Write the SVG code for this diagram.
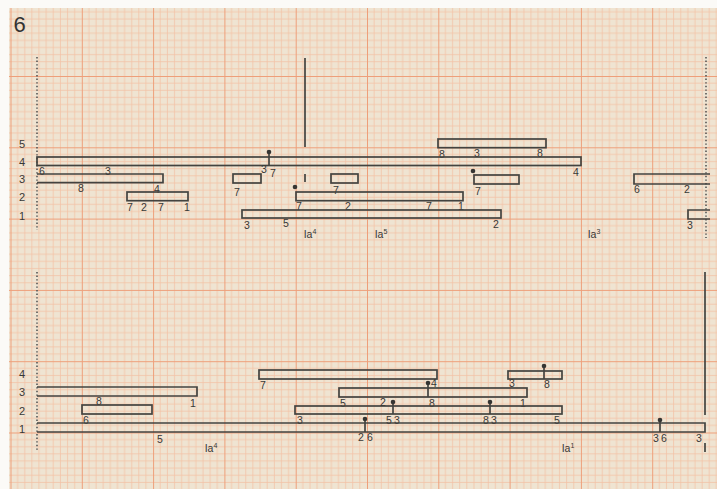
<svg xmlns="http://www.w3.org/2000/svg" width="717" height="489" viewBox="0 0 717 489">
<defs>
<style>
.bar{fill:none;stroke:#434340;stroke-width:1.7}
.ln{stroke:#434340;stroke-width:1.7;fill:none}
.dot{fill:#353533}
.dotted{stroke:#555;stroke-width:1.6;stroke-dasharray:1.4 2.2;fill:none}
text{font-family:"Liberation Sans","DejaVu Sans",sans-serif;font-size:10.5px;fill:#383836;text-anchor:middle}
.ax{font-size:11px}
.ia{font-size:10.5px}
.sup{font-size:7px}
</style>
<pattern id="grid" x="10.5" y="4.7" width="71.3" height="71.3" patternUnits="userSpaceOnUse">
<path d="M7.13,0V71.3M14.26,0V71.3M21.39,0V71.3M28.52,0V71.3M35.65,0V71.3M42.78,0V71.3M49.91,0V71.3M57.04,0V71.3M64.17,0V71.3M0,7.13H71.3M0,14.26H71.3M0,21.39H71.3M0,28.52H71.3M0,35.65H71.3M0,42.78H71.3M0,49.91H71.3M0,57.04H71.3M0,64.17H71.3" stroke="#f2c2a6" stroke-width="0.8" fill="none"/>
<path d="M0.3,0V71.3M0,0.3H71.3" stroke="#ee9f7a" stroke-width="1.4" fill="none"/>
</pattern>
</defs>
<rect x="0" y="0" width="717" height="489" fill="#fbfaf7"/>
<rect x="9" y="8" width="708" height="481" fill="#efe4d2"/>
<rect x="9" y="8" width="708" height="481" fill="url(#grid)"/>

<text x="19.5" y="32" style="font-size:22px;fill:#333">6</text>

<g id="connectors">
<line class="dotted" x1="37" y1="57" x2="37" y2="230"/>
<line class="dotted" x1="706" y1="57" x2="706" y2="238"/>
<line class="dotted" x1="37" y1="272" x2="37" y2="450"/>
<line class="ln" x1="305" y1="58" x2="305" y2="147"/>
<line class="ln" x1="305" y1="174" x2="305" y2="182"/>
<line class="ln" x1="705" y1="272" x2="705" y2="415"/>
<line class="ln" x1="705" y1="443" x2="705" y2="452"/>
</g>

<g id="axis-top">
<text class="ax" x="22" y="148">5</text>
<text class="ax" x="22" y="166">4</text>
<text class="ax" x="22" y="183">3</text>
<text class="ax" x="22" y="201">2</text>
<text class="ax" x="22" y="220">1</text>
</g>
<g id="axis-bottom">
<text class="ax" x="22" y="378">4</text>
<text class="ax" x="22" y="396">3</text>
<text class="ax" x="22" y="415">2</text>
<text class="ax" x="22" y="433">1</text>
</g>

<g id="t-row5">
<rect class="bar" x="438" y="139" width="108" height="8.7"/>
<text x="442" y="158">8</text><text x="477" y="157">3</text><text x="540" y="157">8</text>
</g>
<g id="t-row4">
<rect class="bar" x="37" y="157" width="544" height="8.5"/>
<line class="ln" x1="269" y1="152" x2="269" y2="165.5"/>
<circle class="dot" cx="269" cy="152" r="2.3"/>
<text x="42" y="175">6</text><text x="108" y="175">3</text>
<text x="264" y="173">3</text><text x="273" y="177">7</text>
<text x="576" y="176">4</text>
</g>
<g id="t-row3a">
<path class="bar" d="M37,174H163V182.7H37"/>
<text x="81" y="192">8</text><text x="157" y="193">4</text>
</g>
<g id="t-row3b">
<rect class="bar" x="233" y="174" width="28" height="9"/>
<text x="237" y="196">7</text>
</g>
<g id="t-row3c">
<rect class="bar" x="331" y="174" width="27" height="9"/>
<text x="336" y="194">7</text>
</g>
<g id="t-row3d">
<rect class="bar" x="474" y="175" width="45" height="9"/>
<circle class="dot" cx="473" cy="171" r="2.3"/>
<text x="478" y="195">7</text>
</g>
<g id="t-row3e">
<path class="bar" d="M710,174H634V184H710"/>
<text x="637" y="193">6</text><text x="687" y="193">2</text>
</g>
<g id="t-row2a">
<rect class="bar" x="127" y="192" width="61" height="8.7"/>
<text x="130" y="211">7</text><text x="144" y="211">2</text><text x="161" y="211">7</text><text x="187" y="211">1</text>
</g>
<g id="t-row2b">
<rect class="bar" x="296" y="192" width="167" height="8.7"/>
<circle class="dot" cx="295" cy="187" r="2.3"/>
<text x="299" y="210">7</text><text x="348" y="210">2</text><text x="429" y="210">7</text><text x="461" y="210">1</text>
</g>
<g id="t-row1a">
<rect class="bar" x="242" y="210" width="259" height="8"/>
<text x="247" y="229">3</text><text x="286" y="227">5</text><text x="496" y="228">2</text>
</g>
<g id="t-row1b">
<path class="bar" d="M710,210H688V219H710"/>
<text x="690" y="229">3</text>
</g>
<g id="t-labels">
<text class="ia" x="310" y="238">Ia<tspan class="sup" dy="-4">4</tspan></text>
<text class="ia" x="381" y="238">Ia<tspan class="sup" dy="-4">5</tspan></text>
<text class="ia" x="594" y="238">Ia<tspan class="sup" dy="-4">3</tspan></text>
</g>

<g id="b-row4a">
<rect class="bar" x="259" y="370" width="178" height="9"/>
<text x="263" y="389">7</text>
</g>
<g id="b-row4b">
<rect class="bar" x="508" y="371" width="54" height="8"/>
<line class="ln" x1="544" y1="366" x2="544" y2="379"/>
<circle class="dot" cx="544" cy="366" r="2.3"/>
<text x="512" y="387">3</text><text x="547" y="388">8</text>
</g>
<g id="b-row3a">
<path class="bar" d="M37,387H197V396H37"/>
<text x="99" y="405">8</text><text x="193" y="407">1</text>
</g>
<g id="b-row3b">
<rect class="bar" x="339" y="388" width="188" height="9"/>
<line class="ln" x1="428" y1="383" x2="428" y2="397"/>
<circle class="dot" cx="428" cy="383" r="2.3"/>
<text x="434" y="387">4</text>
<text x="343" y="407">5</text><text x="432" y="407">8</text><text x="523" y="407">1</text>
</g>
<g id="b-row2a">
<rect class="bar" x="82" y="405" width="70" height="9"/>
<text x="86" y="424">6</text>
</g>
<g id="b-row2b">
<rect class="bar" x="295" y="406" width="267" height="8"/>
<line class="ln" x1="393" y1="402" x2="393" y2="414"/>
<circle class="dot" cx="393" cy="402" r="2.3"/>
<line class="ln" x1="490" y1="402" x2="490" y2="414"/>
<circle class="dot" cx="490" cy="402" r="2.3"/>
<text x="383" y="406">2</text>
<text x="300" y="424">3</text><text x="389" y="424">5</text><text x="397" y="424">3</text>
<text x="486" y="424">8</text><text x="494" y="424">3</text><text x="557" y="424">5</text>
</g>
<g id="b-row1">
<path class="bar" d="M37,423H705V432H37"/>
<line class="ln" x1="365" y1="419" x2="365" y2="432"/>
<circle class="dot" cx="365" cy="419" r="2.3"/>
<line class="ln" x1="660" y1="420" x2="660" y2="432"/>
<circle class="dot" cx="660" cy="420" r="2.3"/>
<text x="160" y="443">5</text>
<text x="361" y="441">2</text><text x="370" y="441">6</text>
<text x="656" y="442">3</text><text x="664" y="442">6</text><text x="699" y="442">3</text>
</g>
<g id="b-labels">
<text class="ia" x="211" y="452">Ia<tspan class="sup" dy="-4">4</tspan></text>
<text class="ia" x="568" y="452">Ia<tspan class="sup" dy="-4">1</tspan></text>
</g>
</svg>
